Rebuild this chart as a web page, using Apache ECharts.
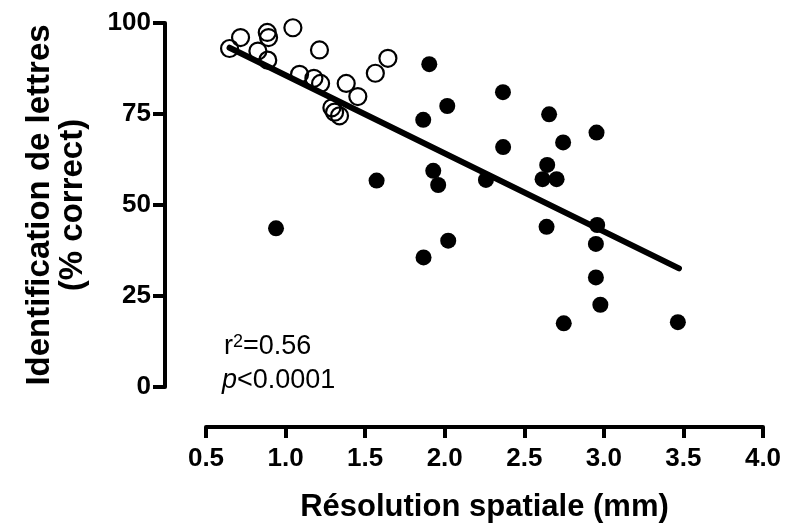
<!DOCTYPE html>
<html>
<head>
<meta charset="utf-8">
<script src="https://cdn.jsdelivr.net/npm/echarts@6/dist/echarts.min.js"></script>
<style>html,body{margin:0;padding:0;background:#fff}#c{width:788px;height:524px}</style>
</head>
<body>
<div id="c"></div>
<script>
// Open circles (low spatial resolution values)
const openX = [0.648, 0.717, 0.885, 0.893, 1.046, 0.826, 0.888, 1.213, 1.088, 1.178, 1.220, 1.381, 1.454, 1.291, 1.308, 1.339, 1.564, 1.643];
const openY = [93.0, 96.0, 97.4, 96.0, 98.7, 92.3, 89.8, 92.6, 85.9, 84.8, 83.4, 83.4, 79.8, 76.7, 75.5, 74.5, 86.2, 90.3];
// Filled circles
const filledX = [1.903, 2.366, 2.016, 1.865, 2.656, 2.744, 2.367, 1.572, 1.928, 1.959, 2.259, 2.644, 2.615, 2.703, 2.640, 2.022, 1.867, 2.954, 2.958, 2.950, 2.950, 2.978, 2.748, 3.465, 0.940];
const filledY = [88.7, 81.0, 77.2, 73.4, 74.9, 67.2, 65.9, 56.7, 59.4, 55.5, 56.9, 61.0, 57.1, 57.1, 44.0, 40.2, 35.6, 69.9, 44.5, 39.3, 30.1, 22.6, 17.5, 17.8, 43.6];
// Regression line end points
const lineX = [0.648, 3.472];
const lineY = [93.2, 32.6];
// Tick labels
const xTickLabels = ['0.5', '1.0', '1.5', '2.0', '2.5', '3.0', '3.5', '4.0'];
const yTickLabels = ['0', '25', '50', '75', '100'];

const FONT = '"Liberation Sans", Arial, Helvetica, sans-serif';
const zip = (a, b) => a.map((v, i) => [v, b[i]]);

const chart = echarts.init(document.getElementById('c'), null, {renderer: 'canvas'});
chart.setOption({
  animation: false,
  backgroundColor: '#fff',
  grid: {left: 206, right: 25, top: 23, bottom: 137, containLabel: false, outerBoundsMode: 'none'},
  xAxis: {
    type: 'value', min: 0.5, max: 4.0, interval: 0.5, offset: 40,
    axisLine: {show: true, onZero: false, lineStyle: {color: '#000', width: 4, cap: 'round'}},
    axisTick: {show: true, length: 11, lineStyle: {color: '#000', width: 4}},
    splitLine: {show: false},
    axisLabel: {
      color: '#000', fontSize: 26, fontWeight: 'bold', fontFamily: FONT, margin: 19,
      formatter: v => xTickLabels[Math.round((v - 0.5) / 0.5)]
    },
    name: 'Résolution spatiale (mm)', nameLocation: 'middle', nameGap: 80,
    nameTextStyle: {color: '#000', fontSize: 31, fontWeight: 'bold', fontFamily: FONT, verticalAlign: 'middle'}
  },
  yAxis: {
    type: 'value', min: 0, max: 100, interval: 25, offset: 41,
    axisLine: {show: true, onZero: false, lineStyle: {color: '#000', width: 4, cap: 'round'}},
    axisTick: {show: true, length: 12, lineStyle: {color: '#000', width: 4}},
    splitLine: {show: false},
    axisLabel: {
      color: '#000', fontSize: 26, fontWeight: 'bold', fontFamily: FONT, margin: 14,
      formatter: v => yTickLabels[Math.round(v / 25)]
    },
    name: 'Identification de lettres\n(% correct)', nameLocation: 'middle', nameGap: 109,
    nameTextStyle: {color: '#000', fontSize: 33, fontWeight: 'bold', fontFamily: FONT, lineHeight: 33, verticalAlign: 'middle', align: 'center'}
  },
  graphic: [
    {type: 'text', left: 224, top: 333, style: {
      text: '{r|r}{s|2}{r|=0.56}', fill: '#000',
      rich: {
        r: {fontSize: 27, fontFamily: FONT, lineHeight: 27},
        s: {fontSize: 18, fontFamily: FONT, verticalAlign: 'top', lineHeight: 18}
      }
    }},
    {type: 'text', left: 222, top: 367, style: {
      text: '{i|p}{n|<0.0001}', fill: '#000',
      rich: {i: {fontSize: 27, fontStyle: 'italic', fontFamily: FONT}, n: {fontSize: 27, fontFamily: FONT}}
    }}
  ],
  series: [
    {
      type: 'scatter', name: 'open', z: 2, data: zip(openX, openY), symbol: 'circle', symbolSize: 17,
      itemStyle: {color: 'rgba(0,0,0,0)', borderColor: '#000', borderWidth: 2.2, opacity: 1}
    },
    {
      type: 'line', name: 'fit', z: 3, data: zip(lineX, lineY), symbol: 'none',
      lineStyle: {color: '#000', width: 6, cap: 'round'}
    },
    {
      type: 'scatter', name: 'filled', z: 4, data: zip(filledX, filledY), symbol: 'circle', symbolSize: 16,
      itemStyle: {color: '#000', opacity: 1}
    }
  ]
});
</script>
</body>
</html>
